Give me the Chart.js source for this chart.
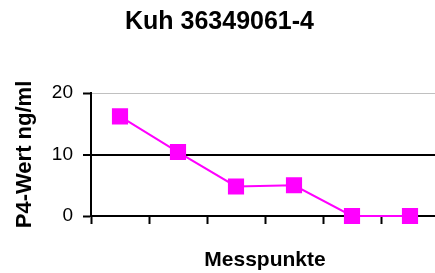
<!DOCTYPE html>
<html>
<head>
<meta charset="utf-8">
<script src="https://cdn.jsdelivr.net/npm/chart.js@4/dist/chart.umd.min.js"></script>
<style>
  html, body { margin: 0; padding: 0; background: #fff; overflow: hidden; }
  #wrap { width: 447px; height: 273px; }
</style>
</head>
<body>
<div id="wrap"><canvas id="p4Chart" width="447" height="273"></canvas></div>
<script>
const categories = ['1', '2', '3', '4', '5', '6'];
const p4Values = [16.2, 10.4, 4.8, 5.0, 0, 0];
const yTicks = [0, 10, 20];

const ctx = document.getElementById('p4Chart').getContext('2d');

new Chart(ctx, {
    type: 'line',
    data: {
        labels: categories,
        datasets: [{
            label: 'P4-Wert',
            data: p4Values,
            borderColor: '#FF00FF',
            backgroundColor: '#FF00FF',
            borderWidth: 2,
            pointStyle: 'rect',
            pointRadius: 10,
            pointHoverRadius: 10,
            tension: 0,
            clip: false
        }]
    },
    options: {
        responsive: false,
        animation: false,
        layout: {
            autoPadding: false,
            padding: { left: 0, right: 8, top: 0, bottom: 0 }
        },
        plugins: {
            legend: { display: false },
            tooltip: { enabled: false },
            title: {
                display: true,
                text: 'Kuh 36349061-4',
                color: '#000',
                font: { family: 'Liberation Sans, Arial', size: 25, weight: 'bold' },
                padding: { top: 7, bottom: 56 }
            }
        },
        scales: {
            x: {
                type: 'category',
                offset: true,
                border: { display: true, color: '#000', width: 2 },
                grid: {
                    offset: true,
                    drawOnChartArea: false,
                    drawTicks: true,
                    tickLength: 8,
                    tickColor: '#000',
                    color: '#000',
                    tickWidth: 2
                },
                ticks: { display: false },
                title: {
                    display: true,
                    text: 'Messpunkte',
                    color: '#000',
                    font: { family: 'Liberation Sans, Arial', size: 21, weight: 'bold' },
                    padding: { top: 0, bottom: 0 }
                },
                afterFit: function (scale) { scale.height = 57; }
            },
            y: {
                min: 0,
                max: 20,
                border: { display: true, color: '#000', width: 2 },
                grid: {
                    color: function (c) {
                        if (c.tick && c.tick.value === 10) return '#000';
                        if (c.tick && c.tick.value === 20) return '#c0c0c0';
                        return 'rgba(0,0,0,0)';
                    },
                    lineWidth: function (c) {
                        return c.tick && c.tick.value === 10 ? 2 : 1;
                    },
                    tickColor: '#000',
                    tickLength: 8,
                    tickWidth: 2
                },
                afterBuildTicks: function (scale) {
                    scale.ticks = yTicks.map(v => ({ value: v }));
                },
                ticks: {
                    color: '#000',
                    padding: 10,
                    font: { family: 'Liberation Sans, Arial', size: 19 }
                },
                title: {
                    display: true,
                    text: 'P4-Wert ng/ml',
                    color: '#000',
                    font: { family: 'Liberation Sans, Arial', size: 22, weight: 'bold' },
                    padding: { top: 12, bottom: 0 }
                },
                afterFit: function (scale) { scale.width = 91; }
            }
        }
    }
});
</script>
</body>
</html>
